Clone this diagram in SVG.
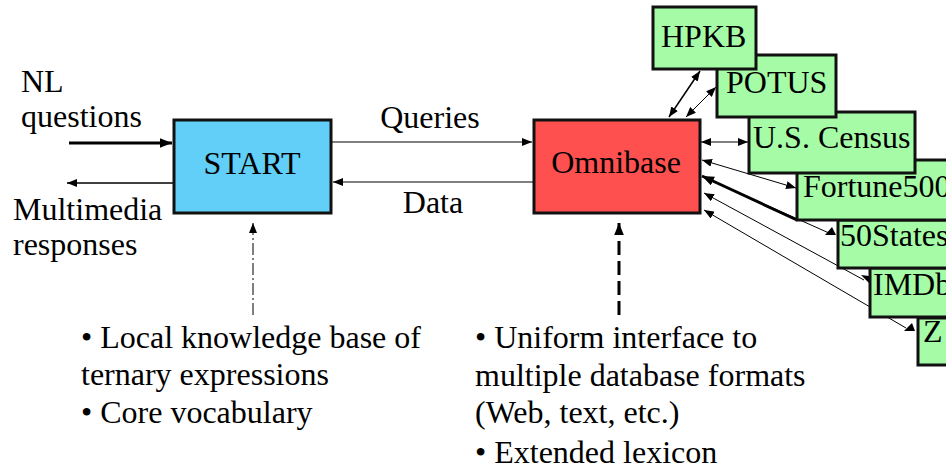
<svg xmlns="http://www.w3.org/2000/svg" width="946" height="469" viewBox="0 0 946 469">
<style>
text{font-family:'Liberation Serif',serif;font-size:32px;fill:#000}
.box{stroke:#111;stroke-width:3}
.db{fill:#a6fca6;stroke:#111;stroke-width:3}
.ln{fill:none;stroke:#000}
</style>
<defs>
<marker id="ah" viewBox="0 0 10 8" refX="10" refY="4" markerWidth="10" markerHeight="8" markerUnits="userSpaceOnUse" orient="auto-start-reverse">
<path d="M0,0 L10,4 L0,8 z" fill="#000"/>
</marker>
<marker id="ahb" viewBox="0 0 10 8" refX="10" refY="4" markerWidth="12" markerHeight="10" markerUnits="userSpaceOnUse" orient="auto-start-reverse">
<path d="M0,0 L10,4 L0,8 z" fill="#000"/>
</marker>
</defs>
<rect width="946" height="469" fill="#fff"/>

<g id="connectors">
<line class="ln" x1="69" y1="143" x2="172" y2="143" stroke-width="3" marker-end="url(#ahb)"/>
<line class="ln" x1="173" y1="183" x2="67" y2="183" stroke-width="1.5" marker-end="url(#ah)"/>
<line class="ln" x1="332" y1="142" x2="532" y2="142" stroke-width="1.2" marker-end="url(#ah)"/>
<line class="ln" x1="533" y1="182" x2="333" y2="182" stroke-width="1.2" marker-end="url(#ah)"/>
<line class="ln" x1="253" y1="315" x2="253" y2="223" stroke="#999" stroke-width="1" stroke-dasharray="12 3 2 3" marker-end="url(#ah)"/>
<line class="ln" x1="619" y1="315" x2="619" y2="223" stroke-width="3" stroke-dasharray="14 6" marker-end="url(#ahb)"/>
<line class="ln" x1="669" y1="117" x2="700" y2="71" stroke-width="1.5" marker-start="url(#ah)" marker-end="url(#ah)"/>
<line class="ln" x1="686" y1="117" x2="716" y2="87" stroke="#bbb" stroke-width="1" marker-start="url(#ah)" marker-end="url(#ah)"/>
<line class="ln" x1="701" y1="142" x2="748" y2="142" stroke-width="1" marker-start="url(#ah)" marker-end="url(#ah)"/>
<line class="ln" x1="702" y1="160" x2="796" y2="188" stroke="#444" stroke-width="1" marker-start="url(#ah)" marker-end="url(#ah)"/>
<line class="ln" x1="703" y1="177" x2="829" y2="233" stroke="#aaa" stroke-width="1"/>
<line class="ln" x1="702" y1="176" x2="797" y2="220" stroke-width="3" marker-start="url(#ahb)"/>
<line class="ln" x1="704" y1="193" x2="864" y2="280" stroke="#bbb" stroke-width="1" marker-start="url(#ah)"/>
<line class="ln" x1="704" y1="210" x2="906" y2="328" stroke="#bbb" stroke-width="1" marker-start="url(#ah)"/>
<polygon points="825,235 836,235 832,227" fill="#000"/>
<polygon points="861,275 869,276 869,283" fill="#000"/>
<polygon points="904,331 915,331 912,323" fill="#000"/>
</g>

<g id="start">
<rect class="box" x="174" y="120" width="157" height="93" fill="#62cff8"/>
<text x="252" y="174" text-anchor="middle">START</text>
</g>
<g id="omnibase">
<rect class="box" x="534" y="120" width="166" height="93" fill="#ff5050"/>
<text x="616" y="173" text-anchor="middle">Omnibase</text>
</g>

<g id="zdb">
<rect class="db" x="918" y="318" width="60" height="47"/>
<text x="923" y="342">Z</text>
</g>
<g id="imdb">
<rect class="db" x="870" y="268" width="100" height="49"/>
<text x="873" y="295">IMDb</text>
</g>
<g id="fiftystates">
<rect class="db" x="838" y="220" width="140" height="48"/>
<text x="840" y="246">50States</text>
</g>
<g id="fortune500">
<rect class="db" x="797" y="160" width="180" height="60"/>
<text x="803" y="197">Fortune500</text>
</g>
<g id="census">
<rect class="db" x="749" y="112" width="166" height="61"/>
<text x="753" y="148">U.S. Census</text>
</g>
<g id="potus">
<rect class="db" x="717" y="55" width="119" height="62"/>
<text x="726" y="93">POTUS</text>
</g>
<g id="hpkb">
<rect class="db" x="653" y="7" width="103" height="62"/>
<text x="661" y="47">HPKB</text>
</g>

<g id="labels">
<text x="21" y="92">NL</text>
<text x="21" y="127">questions</text>
<text x="13" y="220">Multimedia</text>
<text x="13" y="255">responses</text>
<text x="430" y="128" text-anchor="middle">Queries</text>
<text x="433" y="213" text-anchor="middle">Data</text>
<text x="81" y="348">• Local knowledge base of</text>
<text x="81" y="385">ternary expressions</text>
<text x="81" y="423">• Core vocabulary</text>
<text x="475" y="348">• Uniform interface to</text>
<text x="475" y="386">multiple database formats</text>
<text x="475" y="423">(Web, text, etc.)</text>
<text x="475" y="463">• Extended lexicon</text>
</g>
</svg>
